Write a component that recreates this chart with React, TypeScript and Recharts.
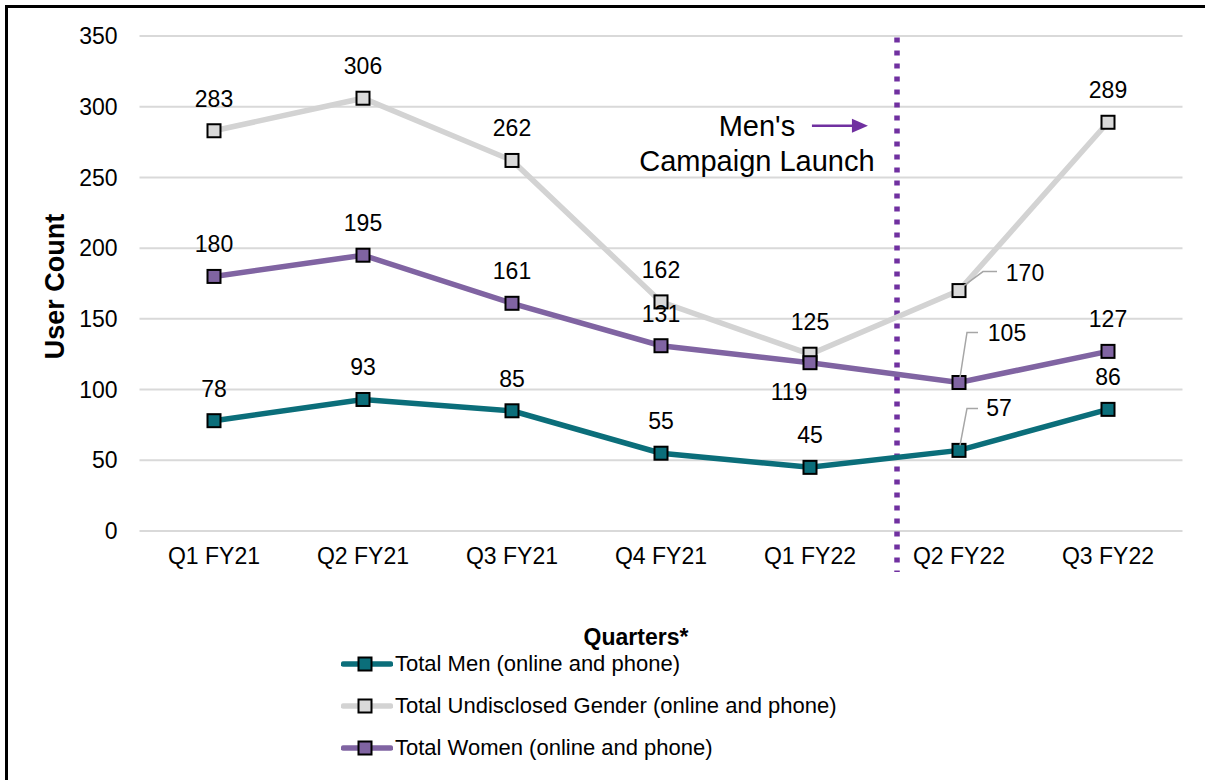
import React from 'react';
import { LineChart, Line, XAxis, YAxis, CartesianGrid, LabelList, ReferenceLine } from 'recharts';

const quarters = ['Q1 FY21', 'Q2 FY21', 'Q3 FY21', 'Q4 FY21', 'Q1 FY22', 'Q2 FY22', 'Q3 FY22'];
const totalMen = [78, 93, 85, 55, 45, 57, 86];
const totalUndisclosed = [283, 306, 262, 162, 125, 170, 289];
const totalWomen = [180, 195, 161, 131, 119, 105, 127];
const yTicks = [0, 50, 100, 150, 200, 250, 300, 350];
const seriesNames = [
  'Total Men (online and phone)',
  'Total Undisclosed Gender (online and phone)',
  'Total Women (online and phone)',
];
// campaign launch marker on a category-index axis (0..6, same as the quarters)
const launchIndex = 4.584;
const arrowFrom = 4.013;
const arrowTo = 4.389;
const arrowValue = 286.5;

const FONT = '"Liberation Sans", Arial, sans-serif';
const TEAL = '#0B6E7A';
const GRAY_LINE = '#D3D3D3';
const GRAY_FILL = '#D9D9D9';
const PURPLE = '#8064A2';
const LAUNCH = '#7030A0';
const X_PAD = { left: 74.5, right: 74.5 };
const LABEL_SIZE = 23;

const data = quarters.map((q, i) => ({
  quarter: q,
  men: totalMen[i],
  undisclosed: totalUndisclosed[i],
  women: totalWomen[i],
}));

type Placement =
  | { kind: 'top' }
  | { kind: 'offset'; dx: number; dy: number }
  | { kind: 'leader'; pts: [number, number][]; dx: number; dy: number };

const TOP: Placement = { kind: 'top' };
const menPlacements: Placement[] = [TOP, TOP, TOP, TOP, TOP,
  { kind: 'leader', pts: [[1, -5], [8, -42], [19, -42]], dx: 40, dy: -42 }, TOP];
const undisclosedPlacements: Placement[] = [TOP, TOP, TOP, TOP, TOP,
  { kind: 'leader', pts: [[5, -5], [24, -19], [38, -19]], dx: 66, dy: -18 }, TOP];
const womenPlacements: Placement[] = [TOP, TOP, TOP, TOP,
  { kind: 'offset', dx: -21, dy: 29 },
  { kind: 'leader', pts: [[1, -5], [8, -50], [19, -50]], dx: 48, dy: -50 }, TOP];

const makeLabel = (placements: Placement[]) => (props: any) => {
  const vb = props.viewBox || {};
  const x = props.x ?? vb.x;
  const y = props.y ?? vb.y;
  const { value, index } = props;
  const p = placements[index] || TOP;
  let tx = x;
  let ty = y - 32;
  let leader: React.ReactNode = null;
  if (p.kind === 'offset') {
    tx = x + p.dx;
    ty = y + p.dy;
  } else if (p.kind === 'leader') {
    tx = x + p.dx;
    ty = y + p.dy;
    leader = (
      <polyline
        points={p.pts.map(([a, b]) => `${x + a},${y + b}`).join(' ')}
        fill="none"
        stroke="#A6A6A6"
        strokeWidth={1.5}
      />
    );
  }
  return (
    <g key={`lbl-${index}`}>
      {leader}
      <text
        x={tx}
        y={ty}
        textAnchor="middle"
        dominantBaseline="central"
        fontSize={LABEL_SIZE}
        fontFamily={FONT}
        fill="#000"
      >
        {value}
      </text>
    </g>
  );
};

const squareDot = (fill: string) => (props: any) => {
  const { cx, cy, index } = props;
  return (
    <rect
      key={`dot-${index}`}
      x={cx - 6.5}
      y={cy - 6.5}
      width={13}
      height={13}
      fill={fill}
      stroke="#000"
      strokeWidth={2}
    />
  );
};

const ArrowShape = (props: any) => {
  const { x1, y1, x2, y2 } = props;
  return (
    <g>
      <line x1={x1} y1={y1} x2={x2 - 12} y2={y2} stroke={LAUNCH} strokeWidth={2.5} />
      <polygon points={`${x2},${y2} ${x2 - 16},${y2 - 7} ${x2 - 16},${y2 + 7}`} fill={LAUNCH} />
      <text x={x1 - 55} y={y1} textAnchor="middle" dominantBaseline="central" fontSize={29} fontFamily={FONT} fill="#000">
        Men's
      </text>
      <text x={x1 - 55} y={y1 + 35} textAnchor="middle" dominantBaseline="central" fontSize={29} fontFamily={FONT} fill="#000">
        Campaign Launch
      </text>
    </g>
  );
};

const legendItems = [
  { name: seriesNames[0], line: TEAL, fill: TEAL },
  { name: seriesNames[1], line: GRAY_LINE, fill: GRAY_FILL },
  { name: seriesNames[2], line: PURPLE, fill: PURPLE },
];

export default function App() {
  return (
    <div style={{ position: 'absolute', left: 0, top: 0, width: 1205, height: 780, background: '#fff', fontFamily: FONT }}>
      <div
        style={{
          position: 'absolute',
          left: 5,
          top: 5,
          width: 1200,
          height: 775,
          borderTop: '3px solid #000',
          borderLeft: '3px solid #000',
          boxSizing: 'border-box',
        }}
      />
      <div style={{ position: 'absolute', left: 0, top: 0 }}>
        <LineChart width={1205} height={780} data={data} margin={{ top: 36, right: 22.5, bottom: 129, left: 0 }}>
          <CartesianGrid horizontal vertical={false} stroke="#D9D9D9" strokeWidth={2} />
          <XAxis
            dataKey="quarter"
            axisLine={false}
            tickLine={false}
            height={120}
            tickMargin={11}
            interval={0}
            padding={X_PAD}
            tick={{ fontSize: 23, fontFamily: FONT, fill: '#000' }}
            label={{
              content: ({ viewBox }: any) => (
                <text
                  x={viewBox.x + viewBox.width / 2 - 25}
                  y={viewBox.y + 106}
                  textAnchor="middle"
                  dominantBaseline="central"
                  fontSize={23}
                  fontWeight="bold"
                  fontFamily={FONT}
                  fill="#000"
                >
                  Quarters*
                </text>
              ),
            }}
          />
          <XAxis xAxisId="idx" type="number" domain={[0, 6]} allowDataOverflow padding={X_PAD} hide />
          <YAxis
            width={139.5}
            domain={[0, 350]}
            ticks={yTicks}
            axisLine={false}
            tickLine={false}
            tickMargin={16}
            tick={{ fontSize: 23, fontFamily: FONT, fill: '#000' }}
            label={{
              content: ({ viewBox }: any) => {
                const cx = viewBox.x + 55;
                const cy = viewBox.y + viewBox.height / 2 + 3;
                return (
                  <text
                    x={cx}
                    y={cy}
                    transform={`rotate(-90, ${cx}, ${cy})`}
                    textAnchor="middle"
                    dominantBaseline="central"
                    fontSize={27}
                    fontWeight="bold"
                    fontFamily={FONT}
                    fill="#000"
                  >
                    User Count
                  </text>
                );
              },
            }}
          />
          <ReferenceLine
            xAxisId="idx"
            segment={[{ x: launchIndex, y: 349 }, { x: launchIndex, y: -29 }]}
            ifOverflow="visible"
            stroke={LAUNCH}
            strokeWidth={5.5}
            strokeDasharray="5 8"
          />
          <ReferenceLine
            xAxisId="idx"
            segment={[{ x: arrowFrom, y: arrowValue }, { x: arrowTo, y: arrowValue }]}
            ifOverflow="visible"
            shape={ArrowShape}
          />
          <Line
            dataKey="men"
            name={seriesNames[0]}
            stroke={TEAL}
            strokeWidth={5.5}
            dot={squareDot(TEAL)}
            isAnimationActive={false}
          >
            <LabelList dataKey="men" content={makeLabel(menPlacements)} />
          </Line>
          <Line
            dataKey="undisclosed"
            name={seriesNames[1]}
            stroke={GRAY_LINE}
            strokeWidth={5.5}
            dot={squareDot(GRAY_FILL)}
            isAnimationActive={false}
          >
            <LabelList dataKey="undisclosed" content={makeLabel(undisclosedPlacements)} />
          </Line>
          <Line
            dataKey="women"
            name={seriesNames[2]}
            stroke={PURPLE}
            strokeWidth={5.5}
            dot={squareDot(PURPLE)}
            isAnimationActive={false}
          >
            <LabelList dataKey="women" content={makeLabel(womenPlacements)} />
          </Line>
        </LineChart>
      </div>
      {legendItems.map((it, i) => (
        <div
          key={it.name}
          style={{
            position: 'absolute',
            left: 341,
            top: 664 + i * 42 - 15,
            height: 30,
            display: 'flex',
            alignItems: 'center',
            whiteSpace: 'nowrap',
          }}
        >
          <svg width={52} height={30} style={{ display: 'block' }}>
            <line x1={2.5} y1={15} x2={49.5} y2={15} stroke={it.line} strokeWidth={5.5} strokeLinecap="round" />
            <rect x={17.5} y={8.5} width={13} height={13} fill={it.fill} stroke="#000" strokeWidth={2} />
          </svg>
          <span style={{ fontSize: 22, color: '#000', marginLeft: 2, fontFamily: FONT }}>{it.name}</span>
        </div>
      ))}
    </div>
  );
}
